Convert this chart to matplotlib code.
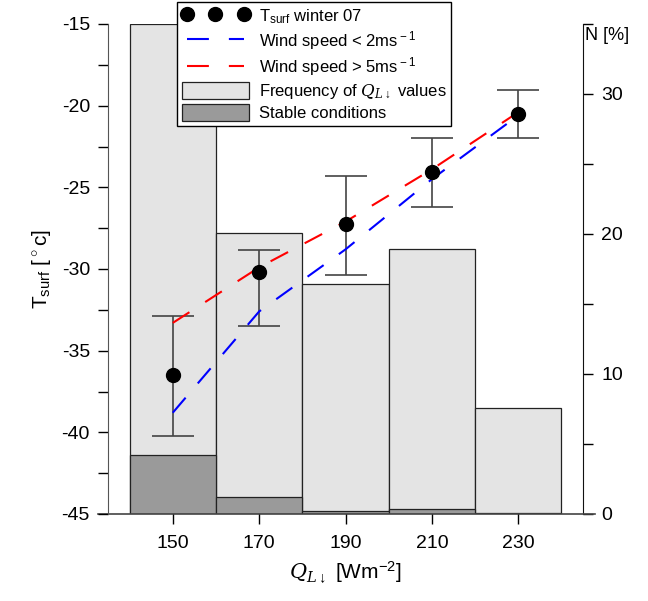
import matplotlib
matplotlib.use("Agg")
import matplotlib.pyplot as plt
from matplotlib.lines import Line2D
from matplotlib.patches import Patch
from matplotlib.ticker import MultipleLocator

plt.rcParams['font.family'] = ['Liberation Sans', 'DejaVu Sans']
plt.rcParams['mathtext.fontset'] = 'custom'
plt.rcParams['mathtext.rm'] = 'Liberation Sans'
plt.rcParams['mathtext.it'] = 'DejaVu Serif:italic'
plt.rcParams['axes.unicode_minus'] = False

# Data
q_bins = [150, 170, 190, 210, 230]
tsurf = [-36.5, -30.2, -27.25, -24.05, -20.5]
err_upper = [-32.9, -28.85, -24.3, -21.95, -19.05]
err_lower = [-40.2, -33.5, -30.35, -26.2, -21.95]
wind_low = [-38.8, -32.6, -28.8, -24.5, -20.6]
wind_high = [-33.3, -29.9, -27.1, -23.9, -20.4]
freq_pct = [35.0, 20.05, 16.4, 18.9, 7.6]
stable_pct = [4.2, 1.25, 0.25, 0.38, 0.05]

fig = plt.figure(figsize=(6.48, 6.01), dpi=100)
ax = fig.add_axes([108/648, 1-514/601, (583-108)/648, (514-24)/601])
axb = ax.twinx()
ax.set_zorder(2)
ax.patch.set_visible(False)

# Bars on right axis
axb.bar(q_bins, freq_pct, width=20, color='#e4e4e4', edgecolor='#222222', linewidth=0.9, zorder=1)
axb.bar(q_bins, stable_pct, width=20, color='#9a9a9a', edgecolor='#222222', linewidth=0.9, zorder=2)
axb.set_ylim(0, 35)
axb.yaxis.set_major_locator(MultipleLocator(10))
axb.yaxis.set_minor_locator(MultipleLocator(5))
axb.tick_params(axis='y', which='both', direction='out', length=7, width=1, labelsize=14, pad=6)
axb.set_yticks([0, 10, 20, 30])

# Temperature on left axis
yerr = [[t - l for t, l in zip(tsurf, err_lower)], [u - t for t, u in zip(tsurf, err_upper)]]
ax.errorbar(q_bins, tsurf, yerr=yerr, fmt='none', ecolor='#444444', elinewidth=1.2,
            capsize=15, capthick=1.2, zorder=3)
dash = (0, (9.5, 9))
ax.plot(q_bins, wind_low, color='#0000ff', lw=1.5, linestyle=dash, zorder=4)
ax.plot(q_bins, wind_high, color='#ff0000', lw=1.5, linestyle=dash, zorder=4)
ax.plot(q_bins, tsurf, 'o', color='black', markersize=10, zorder=5)

ax.set_xlim(135, 245)
ax.set_ylim(-45, -15)
ax.set_xticks(q_bins)
ax.yaxis.set_major_locator(MultipleLocator(5))
ax.yaxis.set_minor_locator(MultipleLocator(2.5))
ax.tick_params(axis='y', which='both', direction='out', length=7, width=1, labelsize=14, pad=6)
ax.tick_params(axis='x', which='both', direction='out', length=7, width=1, labelsize=14, pad=8)

for a in (ax, axb):
    a.spines['top'].set_visible(False)
    a.spines['bottom'].set_visible(False)
ax.spines['right'].set_visible(False)
axb.spines['left'].set_visible(False)
ax.spines['left'].set_color('#555555')
axb.spines['right'].set_color('#111111')

# extended bottom axis line
fig.add_artist(Line2D([98/648, 595/648], [1-514/601, 1-514/601], color='#444444', lw=1.2,
                      transform=fig.transFigure))

ax.set_ylabel(r'T$_{\rm surf}$ [$^\circ$c]', fontsize=15, labelpad=6)
ax.set_xlabel(r'$Q_{L\downarrow}$ [Wm$^{\mathregular{-2}}$]', fontsize=15, labelpad=6)
fig.text(585/648, 1-36/601, 'N [%]', fontsize=13, va='center', ha='left')

handles = [
    Line2D([], [], marker='o', color='black', linestyle='none', markersize=10),
    Line2D([], [], color='#0000ff', lw=1.5, linestyle=(0, (10.5, 9.6))),
    Line2D([], [], color='#ff0000', lw=1.5, linestyle=(0, (10.5, 9.6))),
    Patch(facecolor='#e4e4e4', edgecolor='#222222', linewidth=0.9),
    Patch(facecolor='#9a9a9a', edgecolor='#222222', linewidth=0.9),
]
labels = [r'T$_{\rm surf}$ winter 07', r'Wind speed < 2ms$^{\rm -1}$', r'Wind speed > 5ms$^{\rm -1}$',
          r'Frequency of $Q_{L\downarrow}$ values', 'Stable conditions']
leg = fig.legend(handles, labels, loc='upper left', bbox_to_anchor=(177/648, 1-2/601),
                 numpoints=3, fontsize=12, handlelength=4.0, handleheight=1.2, labelspacing=0.2,
                 borderpad=0.3, handletextpad=0.6, fancybox=False, framealpha=1,
                 edgecolor='black', borderaxespad=0)
leg.get_frame().set_linewidth(1.0)
leg.set_zorder(10)

fig.savefig('out.png', dpi=100)
